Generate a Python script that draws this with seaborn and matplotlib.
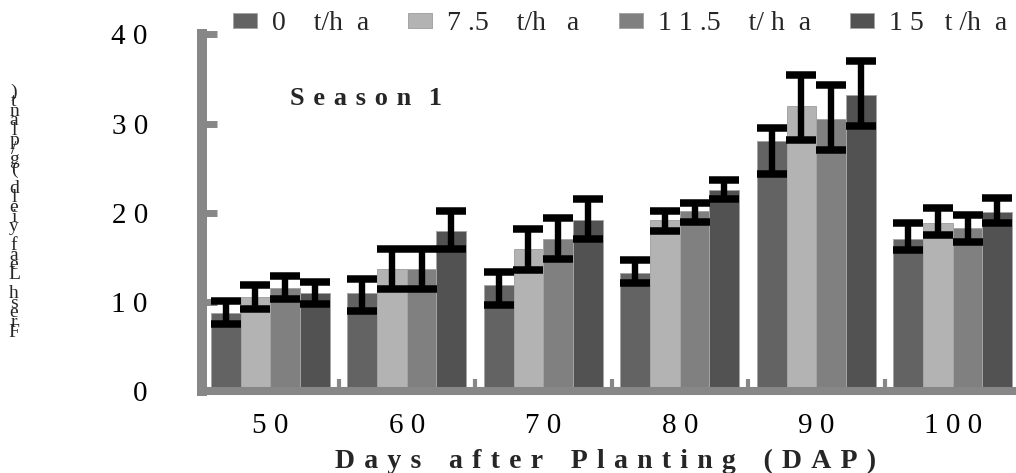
import numpy as np
import pandas as pd
import matplotlib
matplotlib.use("Agg")
import matplotlib.pyplot as plt
import seaborn as sns

# ---------------- data ----------------
dap = ["50", "60", "70", "80", "90", "100"]
dap_tick_labels = ["5 0", "6 0", "7 0", "8 0", "9 0", "1 0 0"]
series = ["0    t/h  a", "7 .5    t/h   a", "1 1 .5    t/ h  a", "1 5   t /h  a"]
yield_0 = [8.8, 11.0, 11.9, 13.2, 28.1, 17.1]
yield_75 = [10.5, 13.7, 15.9, 19.2, 32.0, 18.9]
yield_115 = [11.6, 13.7, 17.1, 20.2, 30.5, 18.3]
yield_15 = [11.0, 18.0, 19.2, 22.6, 33.2, 20.1]
# error bar ends (lower, upper)
low_0 = [7.55, 9.0, 9.7, 12.1, 24.3, 15.8]
high_0 = [10.05, 12.6, 13.35, 14.75, 29.5, 18.85]
low_75 = [9.2, 11.5, 13.6, 18.0, 28.2, 17.5]
high_75 = [11.85, 15.9, 18.2, 20.2, 35.5, 20.5]
low_115 = [10.35, 11.5, 14.85, 19.0, 27.0, 16.7]
high_115 = [12.85, 15.9, 19.4, 21.1, 34.3, 19.8]
low_15 = [9.8, 15.9, 17.0, 21.5, 29.7, 18.8]
high_15 = [12.2, 20.2, 21.5, 23.65, 37.0, 21.7]
y_ticks = [0, 10, 20, 30, 40]
y_tick_labels = ["0", "1 0", "2 0", "3 0", "4 0"]
colors = ["#636363", "#b3b3b3", "#808080", "#525252"]
x_title = "Days after Planting (DAP)"
y_title = "Fresh Leaf yield (g/plant)"
panel_title = "Season 1"

values = [yield_0, yield_75, yield_115, yield_15]
lows = [low_0, low_75, low_115, low_15]
highs = [high_0, high_75, high_115, high_15]

df = pd.DataFrame({
    "DAP": np.tile(dap, len(series)),
    "Rate": np.repeat(series, len(dap)),
    "Yield": np.concatenate(values),
})


def spaced(text, gap="\u2004", word_gap="\u2004\u2004\u2004"):
    words = text.split(" ")
    return word_gap.join(gap.join(w) for w in words)


# ---------------- style ----------------
sns.set_style("white")
plt.rcParams["font.family"] = ["Liberation Serif", "DejaVu Serif"]

W, H = 1016, 473
fig = plt.figure(figsize=(W / 100, H / 100), dpi=100)
ax = fig.add_axes([202 / W, 1 - 391 / H, (1021 - 202) / W, (391 - 34.5) / H])

sns.barplot(data=df, x="DAP", y="Yield", hue="Rate", order=dap, hue_order=series,
            palette=colors, saturation=1, width=0.87, errorbar=None,
            edgecolor="#a5a5a5", linewidth=0.7, ax=ax)

for cont, lo, hi in zip(ax.containers, lows, highs):
    xs = np.array([b.get_x() + b.get_width() / 2 for b in cont])
    ys = np.array([b.get_height() for b in cont])
    ax.errorbar(xs, ys, yerr=[ys - np.array(lo), np.array(hi) - ys], fmt="none",
                ecolor="black", elinewidth=4.6, capsize=10.6, capthick=5.4, zorder=4)

ax.set_ylim(0, 40)
ax.set_xlim(-0.5, 5.5)
ax.set_yticks(y_ticks)
ax.set_yticklabels(y_tick_labels)
ax.set_xticks(range(len(dap)))
ax.set_xticklabels(dap_tick_labels)
ax.set_xticks(np.arange(-0.5, len(dap) + 0.5, 1), minor=True)
ax.set_xlabel("")
ax.set_ylabel("")

axis_gray = "#878787"
for s in ["top", "right"]:
    ax.spines[s].set_visible(False)
ax.spines["left"].set_linewidth(7.2)
ax.spines["left"].set_color(axis_gray)
ax.spines["bottom"].set_linewidth(5.8)
ax.spines["bottom"].set_color(axis_gray)

ax.tick_params(axis="y", direction="in", length=11, width=5, color=axis_gray,
               pad=39, labelsize=21, labelcolor="black", left=True)
ax.tick_params(axis="x", which="major", length=0, pad=16, labelsize=21, labelcolor="black")
ax.tick_params(axis="x", which="minor", direction="in", length=9, width=3, color=axis_gray, bottom=True)

sns.move_legend(ax, "center left", bbox_to_anchor=(233 / W, 1 - 24 / H),
                bbox_transform=fig.transFigure, ncol=4, frameon=False, title=None,
                fontsize=20, handlelength=0.86, handleheight=0.43, handletextpad=0.55,
                columnspacing=1.4, borderpad=0, borderaxespad=0)

fig.text(290 / W, 1 - 98.5 / H, spaced(panel_title, word_gap="\u2004\u2004"), ha="left", va="center",
         fontsize=19, fontweight="bold")
fig.text(606 / W, 1 - 461 / H, spaced(x_title),
         ha="center", va="center", fontsize=20, fontweight="bold")
fig.text(14 / W, 1 - 212 / H, "\n".join(reversed(y_title)),
         ha="center", va="center", fontsize=14, linespacing=0.43)

fig.savefig("out.png", dpi=100)
